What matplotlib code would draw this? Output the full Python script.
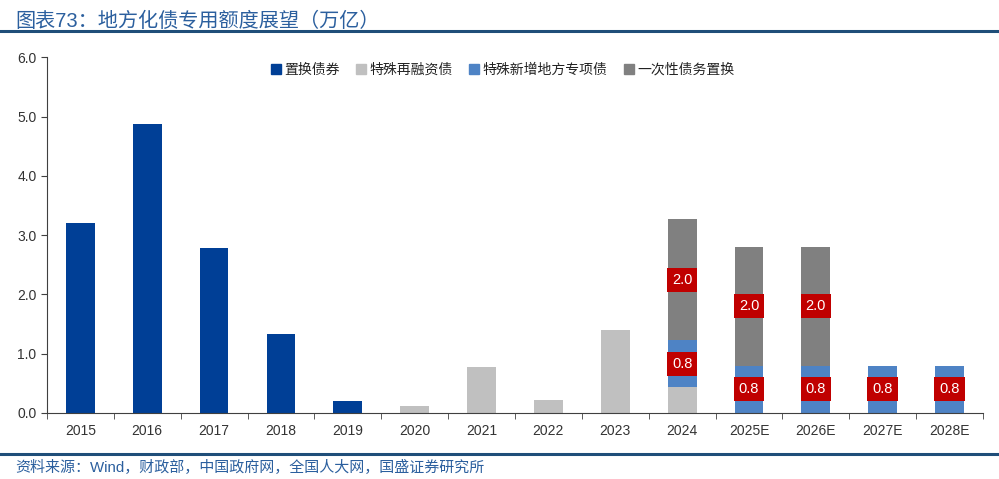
import numpy as np
import matplotlib.pyplot as plt
from matplotlib.lines import Line2D

plt.rcParams['font.family'] = ['Liberation Sans', 'Noto Sans CJK SC', 'DejaVu Sans']

# 数据（万亿）
years = ['2015', '2016', '2017', '2018', '2019', '2020', '2021', '2022', '2023',
         '2024', '2025E', '2026E', '2027E', '2028E']
zhihuan = [3.2, 4.88, 2.78, 1.33, 0.2, 0, 0, 0, 0, 0, 0, 0, 0, 0]
zaironzi = [0, 0, 0, 0, 0, 0.11, 0.78, 0.22, 1.40, 0.43, 0, 0, 0, 0]
zhuanxiang = [0, 0, 0, 0, 0, 0, 0, 0, 0, 0.8, 0.8, 0.8, 0.8, 0.8]
yicixing = [0, 0, 0, 0, 0, 0, 0, 0, 0, 2.04, 2.0, 2.0, 0, 0]
names = ['置换债券', '特殊再融资债', '特殊新增地方专项债', '一次性债务置换']
colors = ['#003F96', '#C0C0C0', '#4E83C5', '#808080']

fig = plt.figure(figsize=(9.99, 4.79), dpi=100)
ax = fig.add_axes([0.047, 0.138, 0.937, 0.742])

x = np.arange(len(years))
w = 0.43
bottom = np.zeros(len(years))
for vals, c in zip([zhihuan, zaironzi, zhuanxiang, yicixing], colors):
    vals = np.array(vals)
    ax.bar(x, vals, w, bottom=bottom, color=c, zorder=2)
    if c in ('#4E83C5', '#808080'):   # 标注专项债和一次性置换
        for xi, b, v in zip(x, bottom, vals):
            if v > 0:
                ax.text(xi, b + v / 2, f'{v:.1f}', ha='center', va='center',
                        color='white', fontsize=10.5, zorder=3,
                        bbox=dict(boxstyle='square,pad=0.35', fc='#C00000', ec='none'))
    bottom = bottom + vals

ax.set_xlim(-0.5, len(years) - 0.5)
ax.set_ylim(0, 6)
ax.set_yticks(np.arange(0, 6.1, 1))
ax.set_yticklabels([f'{v:.1f}' for v in np.arange(0, 6.1, 1)])
ax.set_xticks(x)
ax.set_xticklabels(years)
ax.set_xticks(np.arange(-0.5, len(years)), minor=True)
ax.tick_params(axis='x', which='major', length=0, pad=8, labelsize=10, labelcolor='#333333')
ax.tick_params(axis='x', which='minor', length=4, color='#404040')
ax.tick_params(axis='y', length=4, color='#404040', labelsize=10, labelcolor='#333333')
for s in ['top', 'right']:
    ax.spines[s].set_visible(False)
for s in ['left', 'bottom']:
    ax.spines[s].set_color('#404040')

handles = [Line2D([], [], marker='s', ls='none', color=c, markersize=6.5) for c in colors]
ax.legend(handles, names, ncol=4, frameon=False, loc='upper center',
          bbox_to_anchor=(0.487, 1.02), fontsize=10, handlelength=0.7,
          handletextpad=0.25, columnspacing=1.2, labelcolor='#222222')

fig.text(0.015, 0.975, '图表73：地方化债专用额度展望（万亿）', fontsize=14.5,
         color='#2B5F9E', va='top', ha='left')
fig.add_artist(Line2D([0, 1], [0.935, 0.935], color='#1F4E79', lw=2.2))
fig.add_artist(Line2D([0, 1], [0.052, 0.052], color='#1F4E79', lw=2.2))
fig.text(0.015, 0.024, '资料来源：Wind，财政部，中国政府网，全国人大网，国盛证券研究所',
         fontsize=10.8, color='#2B5F9E', va='center', ha='left')

fig.savefig('out.png', dpi=100)
